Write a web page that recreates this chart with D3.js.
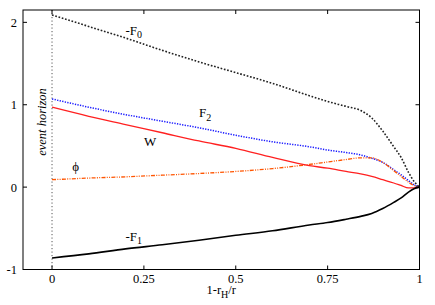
<!DOCTYPE html>
<html>
<head>
    <script src="https://d3js.org/d3.v7.min.js"></script>
    <style>
        body { margin: 0; background: #fff; }
        text { font-family: "Liberation Serif", "DejaVu Serif", serif; fill: #000; }
        .tick-label { font-size: 12.5px; }
        .curve-label { font-size: 13px; }
    </style>
</head>
<body>
    <svg width="435" height="305"></svg>
    <script>
        var xs = [0, 0.1, 0.2, 0.3, 0.4, 0.5, 0.6, 0.7, 0.75, 0.8, 0.84, 0.87, 0.9, 0.93, 0.95, 0.97, 0.985, 1];
        var negF0 = [2.09, 1.95, 1.81, 1.66, 1.52, 1.39, 1.26, 1.11, 1.04, 0.98, 0.93, 0.84, 0.68, 0.49, 0.36, 0.18, 0.07, 0];
        var F2 = [1.07, 0.97, 0.88, 0.80, 0.72, 0.63, 0.55, 0.49, 0.45, 0.42, 0.39, 0.35, 0.30, 0.21, 0.15, 0.08, 0.03, 0];
        var W = [0.97, 0.86, 0.76, 0.66, 0.56, 0.47, 0.36, 0.26, 0.23, 0.19, 0.16, 0.13, 0.09, 0.05, 0.02, -0.01, -0.01, 0];
        var phi = [0.09, 0.11, 0.125, 0.145, 0.165, 0.19, 0.225, 0.275, 0.305, 0.335, 0.355, 0.355, 0.30, 0.20, 0.13, 0.06, 0.02, 0];
        var negF1 = [-0.86, -0.81, -0.75, -0.70, -0.645, -0.585, -0.53, -0.46, -0.43, -0.39, -0.355, -0.32, -0.26, -0.185, -0.13, -0.06, -0.02, 0];

        var xTicks = [0, 0.25, 0.5, 0.75, 1];
        var xTickLabels = ["0", "0.25", "0.5", "0.75", "1"];
        var yTicks = [-1, 0, 1, 2];

        var svg = d3.select("svg");
        var pl = 23, pr = 419.5, pt = 10, pb = 269.5;

        var x = d3.scaleLinear().domain([-0.079, 1]).range([pl, pr]);
        var y = d3.scaleLinear().domain([-1, 2.15]).range([pb, pt]);

        // event horizon line
        svg.append("line")
            .attr("x1", x(0)).attr("x2", x(0))
            .attr("y1", pt).attr("y2", pb)
            .attr("stroke", "#555").attr("stroke-width", 1)
            .attr("stroke-dasharray", "1.2,2.3");

        svg.append("text")
            .attr("transform", "translate(46,122) rotate(-90)")
            .attr("text-anchor", "middle")
            .style("font-style", "italic")
            .style("font-size", "12.5px")
            .text("event horizon");

        var series = [
            {vals: negF0, color: "#222", width: 1.6, dash: "1.7,1.7"},
            {vals: F2, color: "#1a1aff", width: 1.5, dash: "1.3,1.3"},
            {vals: phi, color: "#ff5500", width: 1.3, dash: "4,1.3,1,1.3,1,1.3"},
            {vals: W, color: "#ff2020", width: 1.3, dash: null},
            {vals: negF1, color: "#000", width: 1.6, dash: null}
        ];

        var line = d3.line()
            .x(function(d) { return x(d[0]); })
            .y(function(d) { return y(d[1]); })
            .curve(d3.curveMonotoneX);

        series.forEach(function(s) {
            var pts = xs.map(function(v, i) { return [v, s.vals[i]]; });
            svg.append("path")
                .attr("d", line(pts))
                .attr("fill", "none")
                .attr("stroke", s.color)
                .attr("stroke-width", s.width)
                .attr("stroke-dasharray", s.dash);
        });

        // frame
        svg.append("rect")
            .attr("x", pl).attr("y", pt)
            .attr("width", pr - pl).attr("height", pb - pt)
            .attr("fill", "none").attr("stroke", "#000").attr("stroke-width", 1);

        // ticks pointing inward on all four sides
        var tl = 4;
        xTicks.forEach(function(t, i) {
            svg.append("line").attr("x1", x(t)).attr("x2", x(t)).attr("y1", pb).attr("y2", pb - tl).attr("stroke", "#000");
            svg.append("line").attr("x1", x(t)).attr("x2", x(t)).attr("y1", pt).attr("y2", pt + tl).attr("stroke", "#000");
            svg.append("text").attr("class", "tick-label")
                .attr("x", x(t)).attr("y", 283)
                .attr("text-anchor", "middle")
                .text(xTickLabels[i]);
        });
        yTicks.forEach(function(t) {
            svg.append("line").attr("x1", pl).attr("x2", pl + tl).attr("y1", y(t)).attr("y2", y(t)).attr("stroke", "#000");
            svg.append("line").attr("x1", pr).attr("x2", pr - tl).attr("y1", y(t)).attr("y2", y(t)).attr("stroke", "#000");
            svg.append("text").attr("class", "tick-label")
                .attr("x", 17).attr("y", y(t) + 4.5)
                .attr("text-anchor", "end")
                .text(t);
        });

        // x-axis title 1-rH/r
        var xt = svg.append("text").attr("x", 206.5).attr("y", 294).style("font-size", "12.5px");
        xt.append("tspan").text("1-r");
        xt.append("tspan").attr("dy", 3.5).style("font-size", "10px").text("H");
        xt.append("tspan").attr("dy", -3.5).text("/r");

        // curve labels
        function label(px, py, main, sub) {
            var t = svg.append("text").attr("class", "curve-label").attr("x", x(px)).attr("y", y(py));
            t.append("tspan").text(main);
            if (sub) t.append("tspan").attr("dy", 3.5).style("font-size", "10px").text(sub);
        }
        label(0.2, 1.85, "-F", "0");
        label(0.4, 0.85, "F", "2");
        label(0.25, 0.50, "W");
        label(0.055, 0.20, "\u03d5");
        label(0.2, -0.65, "-F", "1");
    </script>
</body>
</html>
